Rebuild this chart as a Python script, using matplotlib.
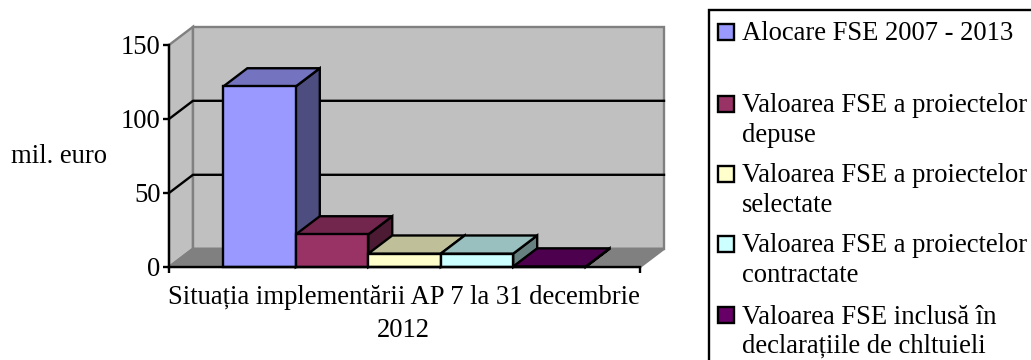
import matplotlib
matplotlib.use("Agg")
import matplotlib.pyplot as plt
from matplotlib.patches import Rectangle

plt.rcParams['font.family'] = ['Liberation Serif', 'DejaVu Serif']

# values in mil. euro
labels = ["Alocare FSE 2007 - 2013",
          "Valoarea FSE a proiectelor\ndepuse",
          "Valoarea FSE a proiectelor\nselectate",
          "Valoarea FSE a proiectelor\ncontractate",
          "Valoarea FSE inclusă în\ndeclarațiile de chltuieli"]
values = [122, 22, 9, 9, 0.3]
front_colors = ['#9999FF', '#993366', '#FFFFCC', '#CCFFFF', '#660066']
top_colors = ['#7373BF', '#73264D', '#BFBF99', '#99BFBF', '#4D004D']
side_colors = ['#4D4D80', '#4D1A33', '#808066', '#668080', '#330033']
yticks = [0, 50, 100, 150]
xlabel = "Situația implementării AP 7 la 31 decembrie\n2012"

W, H = 1031, 360
LW = 1.7
FS = 19.2
GAP = 0.75          # space left and right of the bars, in bar widths
DX = 0.331          # depth of the box, in x units
DY = 12.3           # depth of the box, in y units
xmax = GAP * 2 + len(values)

fig = plt.figure(figsize=(W / 100, H / 100), dpi=100)
ax = fig.add_axes([169 / W, 1 - 267 / H, 471 / W, 222 / H])
ax.set_xlim(0, xmax)
ax.set_ylim(0, 150)
ax.patch.set_visible(False)


def poly(xs, ys, color, edge='black', z=2):
    ax.fill(xs, ys, facecolor=color, edgecolor=edge, linewidth=LW,
            joinstyle='miter', clip_on=False, zorder=z)


# walls and floor
poly([0, DX, DX, 0], [0, DY, 150 + DY, 150], '#C0C0C0', '#808080', 1)
poly([DX, xmax + DX, xmax + DX, DX], [DY, DY, 150 + DY, 150 + DY], '#C0C0C0', '#808080', 1)
poly([0, xmax, xmax + DX, DX], [0, 0, DY, DY], '#808080', '#808080', 1)

# gridlines run over the side wall and the back wall
for v in yticks[1:-1]:
    ax.plot([0, DX, xmax + DX], [v, v + DY, v + DY], color='black', lw=LW,
            clip_on=False, zorder=1.5)

# bars, left to right so each one hides the side of the previous one
for i, v in enumerate(values):
    x0, x1 = GAP + i, GAP + i + 1
    poly([x1, x1 + DX, x1 + DX, x1], [0, DY, v + DY, v], side_colors[i])
    poly([x0, x1, x1 + DX, x0 + DX], [v, v, v + DY, v + DY], top_colors[i])
    poly([x0, x1, x1, x0], [0, 0, v, v], front_colors[i])

for s in ['top', 'right']:
    ax.spines[s].set_visible(False)
for s in ['left', 'bottom']:
    ax.spines[s].set_linewidth(LW)
    ax.spines[s].set_zorder(5)
ax.set_yticks(yticks)
ax.set_yticklabels([str(t) for t in yticks])
ax.set_xticks([0, xmax])
ax.set_xticklabels([])
ax.tick_params(axis='y', length=4, width=LW, labelsize=FS, pad=2)
ax.tick_params(axis='x', length=4, width=LW)

fig.text(403.5 / W, 1 - 303.5 / H, xlabel.split("\n")[0], fontsize=FS, ha='center', va='baseline')
fig.text(403.5 / W, 1 - 337 / H, xlabel.split("\n")[1], fontsize=FS, ha='center', va='baseline')
fig.text(59 / W, 1 - 163 / H, "mil. euro", fontsize=FS, ha='center', va='baseline')

# legend box runs off the right and bottom of the picture
fig.add_artist(Rectangle((708.5 / W, -0.05), 0.4, 1.05 - 10 / H, transform=fig.transFigure,
                         facecolor='white', edgecolor='black', linewidth=LW))
first_baselines = [40.5, 112.5, 182.5, 252.5, 323.5]
for i, label in enumerate(labels):
    base = first_baselines[i]
    fig.add_artist(Rectangle((718 / W, 1 - (base - 1) / H), 15.5 / W, 15.5 / H, transform=fig.transFigure,
                             facecolor=front_colors[i], edgecolor='black', linewidth=LW))
    for j, line in enumerate(label.split("\n")):
        fig.text(742 / W, 1 - (base + j * 29.5) / H, line, fontsize=FS, va='baseline')

fig.savefig("out.png", dpi=100)
